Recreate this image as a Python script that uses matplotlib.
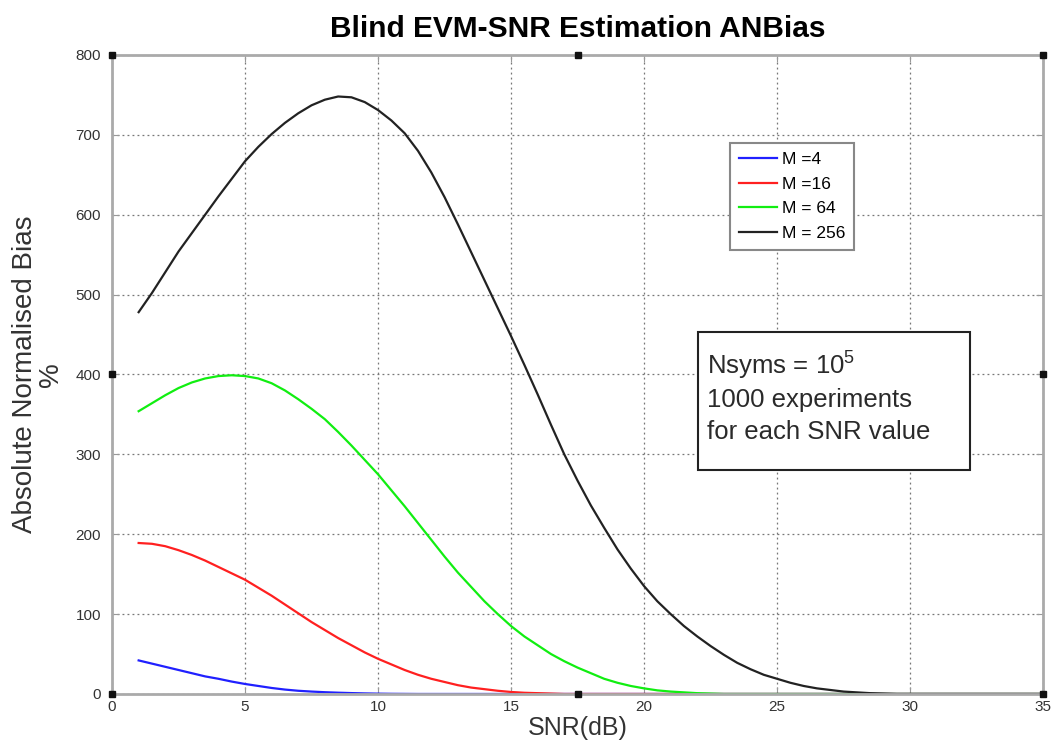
import matplotlib.pyplot as plt
from matplotlib.patches import Rectangle

plt.rcParams['font.family'] = ['Liberation Sans', 'DejaVu Sans']
plt.rcParams['mathtext.fontset'] = 'custom'
plt.rcParams['mathtext.rm'] = 'Liberation Sans'

# SNR values (dB), 0.5 dB steps from 1 to 35
snr = [1 + 0.5 * i for i in range(69)]

# absolute normalised bias (%), zero beyond the listed values
bias_m4 = [42, 38, 34, 30, 26, 22, 19, 15.5, 12.5, 10, 7.5, 5.5, 4, 3, 2.2, 1.6,
           1.1, 0.7, 0.4, 0.2, 0.1]
bias_m16 = [189, 188, 185, 180, 174, 167, 159, 151, 143, 133, 123, 112, 101, 90,
            80, 70, 61, 52, 44, 37, 30, 24, 19, 15, 11, 8, 6, 4, 2.5, 1.5, 1, 0.5]
bias_m64 = [354, 364, 374, 383, 390, 395, 398, 399, 398, 395, 389, 380, 369, 357,
            344, 328, 311, 293, 275, 255, 235, 214, 193, 172, 152, 134, 116, 100,
            85, 72, 61, 50, 41, 33, 26, 19, 14, 10, 7, 4.5, 3, 2, 1, 0.5]
bias_m256 = [478, 502, 528, 554, 577, 600, 623, 645, 667, 685, 701, 715, 727, 737,
             744, 748, 747, 741, 731, 718, 702, 680, 653, 622, 588, 553, 518, 483,
             448, 412, 375, 337, 300, 267, 236, 208, 181, 157, 135, 116, 100, 85,
             72, 60, 49, 39, 31, 24, 19, 14, 10, 7, 5, 3, 2, 1, 0.5]

labels = ['M =4', 'M =16', 'M = 64', 'M = 256']
colors = ['#2020ff', '#ff2020', '#11ee11', '#222222']

fig = plt.figure(figsize=(10.59, 7.53), dpi=100)
ax = fig.add_axes([0.1058, 0.0784, 0.8792, 0.8486])

for ys, lab, c in zip([bias_m4, bias_m16, bias_m64, bias_m256], labels, colors):
    ys = ys + [0] * (len(snr) - len(ys))
    ax.plot(snr, ys, color=c, lw=1.6, label=lab)

ax.set_xlim(0, 35)
ax.set_ylim(0, 800)
ax.set_xticks(range(0, 36, 5))
ax.set_yticks(range(0, 801, 100))
ax.grid(True, linestyle=(0, (1.5, 2.5)), color='#777777', lw=0.9)
ax.tick_params(direction='in', length=5, color='#999999', labelsize=11,
               labelcolor='#333333', top=True, right=True)
ax.tick_params(axis='y', pad=8)
ax.tick_params(axis='x', pad=4)
for s in ax.spines.values():
    s.set_color('#aaaaaa')
    s.set_linewidth(2)

ax.set_title('Blind EVM-SNR Estimation ANBias', fontsize=21.5, fontweight='bold', pad=13)
ax.set_xlabel('SNR(dB)', fontsize=18, color='#333333', labelpad=2)
ax.set_ylabel('Absolute Normalised Bias\n%', fontsize=20, color='#333333',
              linespacing=1.0, labelpad=8)

leg = ax.legend(loc='upper left', bbox_to_anchor=(0.664, 0.862), fontsize=12.5,
                handlelength=2.2, fancybox=False, framealpha=1,
                edgecolor='#888888', borderpad=0.5, labelspacing=0.55,
                handletextpad=0.3, borderaxespad=0)
leg.get_frame().set_linewidth(1.5)

# annotation box
ax.add_patch(Rectangle((0.629, 0.3505), 0.2926, 0.216, transform=ax.transAxes,
                       fill=True, facecolor='white', edgecolor='#222222', lw=1.5,
                       zorder=5))
ax.text(0.639, 0.541, 'Nsyms = 10$^5$\n1000 experiments\nfor each SNR value',
        transform=ax.transAxes, fontsize=18.5, va='top', ha='left', color='#2a2a2a',
        linespacing=1.38, zorder=6)

# selection handles drawn by the figure editor
hx = [0, 0.5, 1, 0, 1, 0, 0.5, 1]
hy = [1, 1, 1, 0.5, 0.5, 0, 0, 0]
ax.plot(hx, hy, 's', color='#111111', ms=4.5, transform=ax.transAxes,
        clip_on=False, zorder=10)

fig.savefig('out.png', dpi=100)
